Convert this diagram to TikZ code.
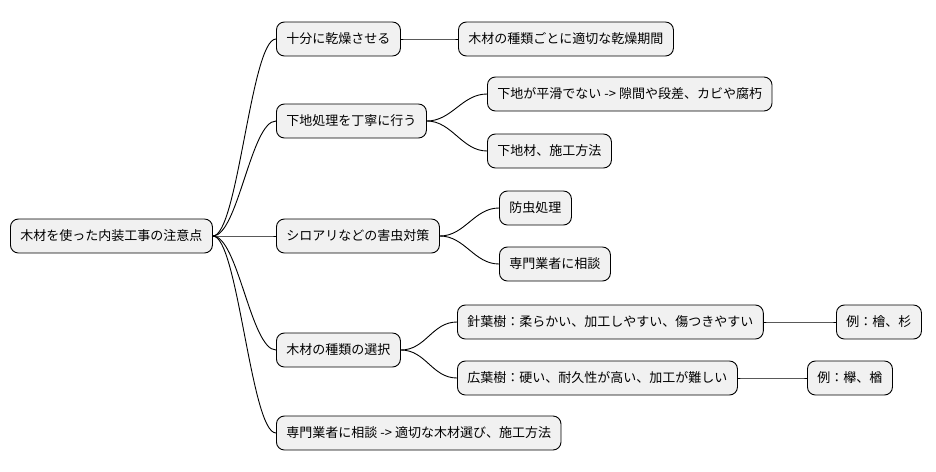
\documentclass[tikz,border=0pt]{standalone}
\usepackage{fontspec}
\setmainfont{Noto Sans CJK JP}
\begin{document}
\begin{tikzpicture}[x=1pt,y=-1pt,
  n/.style={draw=black,line width=0.9pt,fill={rgb,255:red,241;green,241;blue,241},rounded corners=8pt,
    minimum height=34pt,inner xsep=10pt,anchor=west,font=\fontsize{13}{15}\selectfont},
  c/.style={line width=0.9pt}]
\useasboundingbox (0,0) rectangle (936,471);
\node[n] (r) at (10,236) {木材を使った内装工事の注意点};
\node[n] (a) at (276,39) {十分に乾燥させる};
\node[n] (b) at (276,121) {下地処理を丁寧に行う};
\node[n] (c) at (276,236) {シロアリなどの害虫対策};
\node[n] (d) at (276,350) {木材の種類の選択};
\node[n] (e) at (276,433) {専門業者に相談 -> 適切な木材選び、施工方法};
\node[n] (a1) at (458,39) {木材の種類ごとに適切な乾燥期間};
\node[n] (b1) at (487,94) {下地が平滑でない -> 隙間や段差、カビや腐朽};
\node[n] (b2) at (487,151) {下地材、施工方法};
\node[n] (c1) at (499,208) {防虫処理};
\node[n] (c2) at (499,264) {専門業者に相談};
\node[n] (d1) at (457,322) {針葉樹：柔らかい、加工しやすい、傷つきやすい};
\node[n] (d2) at (457,378) {広葉樹：硬い、耐久性が高い、加工が難しい};
\node[n] (d11) at (836,322) {例：檜、杉};
\node[n] (d21) at (807,378) {例：欅、楢};
\foreach \p/\q in {r/a,r/b,r/c,r/d,r/e,a/a1,b/b1,b/b2,c/c1,c/c2,d/d1,d/d2,d1/d11,d2/d21}{
  \draw[c] (\p.east) .. controls ([xshift=25pt]\p.east) and ([xshift=-25pt]\q.west) .. (\q.west);
}
\end{tikzpicture}
\end{document}
